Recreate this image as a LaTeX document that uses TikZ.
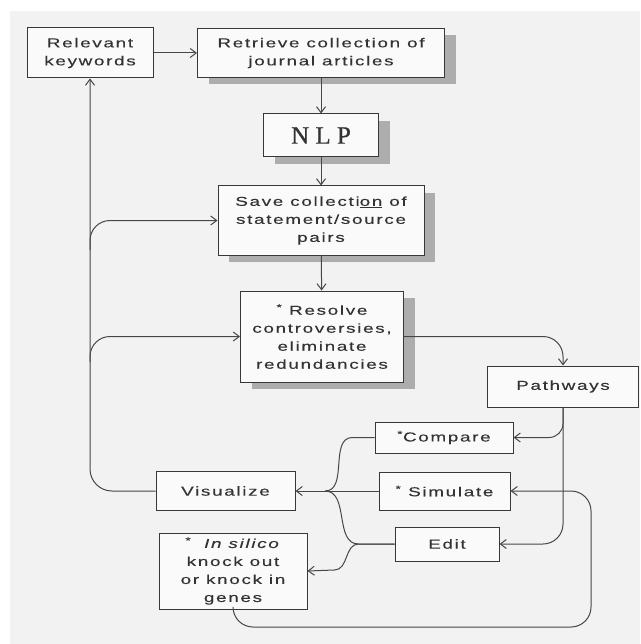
\documentclass[tikz,border=0pt]{standalone}
\usepackage{fontspec}
\setmainfont{Liberation Sans}[FakeStretch=1.45,LetterSpace=13,FakeBold=0.2]
\newfontfamily\nlpfont{Liberation Serif}[LetterSpace=25,FakeBold=0.5]
\usetikzlibrary{arrows.meta,positioning,shadows}

\tikzset{
  box/.style={draw=black!78,line width=1pt,fill=black!2,text=black!80,inner sep=0pt,align=center,font=\fontsize{13}{18}\selectfont},
  shadowbox/.style={box,drop shadow={shadow xshift=11pt,shadow yshift=-7pt,fill=black!32,opacity=1}},
  arr/.style={draw=black!72,line width=1pt,-{Straight Barb[length=6pt,width=9pt]}},
  wire/.style={draw=black!72,line width=1pt},
}

\begin{document}
\begin{tikzpicture}[x=1pt,y=-1pt]
\useasboundingbox (0,0) rectangle (640,644);
\fill[black!5] (10,11) rectangle (640,644);

\node[box,minimum width=126pt,minimum height=50pt] (keywords) at (90,53) {Relevant\\keywords};
\node[shadowbox,minimum width=247pt,minimum height=49pt] (retrieve) at (321,53) {Retrieve collection of\\journal articles};
\node[shadowbox,minimum width=115pt,minimum height=43pt,font=\nlpfont\fontsize{25}{25}\selectfont] (nlp) at (321,135.5) {NLP};
\node[shadowbox,minimum width=206pt,minimum height=69pt] (save) at (321,220.5) {Save collecti\underline{on} of\\statement/source\\pairs};
\node[shadowbox,minimum width=163pt,minimum height=91pt] (resolve) at (322,336.5) {\textsuperscript{*} Resolve\\controversies,\\eliminate\\redundancies};
\node[box,minimum width=151pt,minimum height=41pt] (pathways) at (563,386.5) {Pathways};
\node[box,minimum width=138pt,minimum height=31pt] (compare) at (444,437.5) {\textsuperscript{*}Compare};
\node[box,minimum width=131pt,minimum height=38pt] (simulate) at (444.5,491) {\textsuperscript{*} Simulate};
\node[box,minimum width=139pt,minimum height=39pt] (visualize) at (225.5,491) {Visualize};
\node[box,minimum width=104pt,minimum height=34pt] (edit) at (447,544) {Edit};
\node[box,minimum width=148pt,minimum height=76pt] (insilico) at (233,571) {\textsuperscript{*}\quad\textit{In silico}\\knock out\\or knock in\\genes};

\coordinate (up1) at (90,250);
\coordinate (up2) at (90,362);
\coordinate (join) at (325,491);
\coordinate (loop) at (591,627);

\draw[arr] (keywords) -- (retrieve);
\draw[arr] (retrieve) -- (nlp);
\draw[arr] (nlp) -- (save);
\draw[arr] (save) -- (resolve);
\draw[arr,rounded corners=20pt] (resolve.east) -| (pathways.north);
\draw[arr,rounded corners=20pt] (pathways.south) |- (edit.east);
\draw[arr,rounded corners=14pt] (pathways.south) |- (compare.east);
\draw[arr,rounded corners=20pt] (insilico.south) |- (loop) |- (simulate.east);
\draw[arr] (simulate.west) -- (visualize.east);
\draw[wire] (compare.west) -- ++(-22,0) to[out=180,in=0] (join);
\draw[wire] (edit.west) -- ++(-36,0) to[out=180,in=0] (join);
\draw[arr] (edit.west) -- ++(-36,0) to[out=180,in=0] ++(-24,26) -- (insilico.east);
\draw[arr,rounded corners=22pt] (visualize.west) -| (keywords.south);
\draw[arr,rounded corners=20pt] (up1) |- (save.west);
\draw[arr,rounded corners=20pt] (up2) |- (resolve.west);
\end{tikzpicture}
\end{document}
